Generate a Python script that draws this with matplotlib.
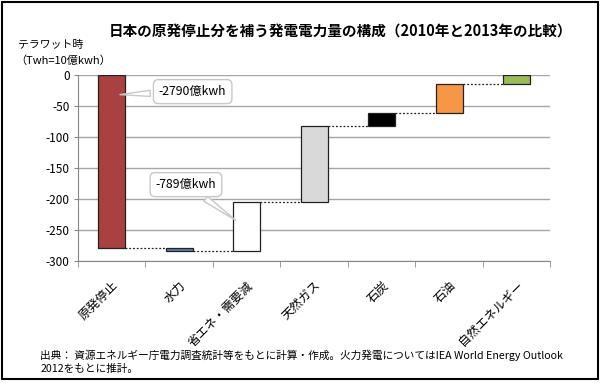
import matplotlib
matplotlib.use("Agg")
import matplotlib.pyplot as plt
from matplotlib.patches import Rectangle

plt.rcParams['font.family'] = ['Noto Sans CJK JP', 'DejaVu Sans']

# data (テラワット時)
categories = ['原発停止', '水力', '省エネ・需要減', '天然ガス', '石炭', '石油', '自然エネルギー']
changes = [-279, -5, 79, 122, 21, 48, 14]
colors = ['#A8413F', '#5B7FB0', '#FFFFFF', '#D9D9D9', '#000000', '#F79646', '#9BBB59']
yticks = [0, -50, -100, -150, -200, -250, -300]

fig = plt.figure(figsize=(6, 3.9), dpi=100)
ax = fig.add_axes([0.13, 0.331, 0.787, 0.477])

# waterfall: running start / end of each bar
starts = []
ends = []
level = 0
for c in changes:
    starts.append(level)
    level += c
    ends.append(level)

bw = 0.4
x = list(range(len(categories)))
for i in x:
    lo = min(starts[i], ends[i])
    h = abs(changes[i])
    ax.bar(i, h, bottom=lo, width=bw, color=colors[i], edgecolor='#222222',
           linewidth=0.9, zorder=3)

# dotted connectors
for i in range(len(categories) - 1):
    ax.plot([i + bw / 2, i + 1 - bw / 2], [ends[i], ends[i]], color='#222222',
            linestyle=(0, (1.5, 1.5)), linewidth=0.9, zorder=2)

ax.set_xlim(-0.5, len(categories) - 0.5)
ax.set_ylim(-300, 0)
ax.set_yticks(yticks)
ax.set_yticklabels([str(v) for v in yticks], fontsize=8.5)
ax.yaxis.grid(True, color='#A6A6A6', linewidth=1.0, zorder=0)
ax.set_axisbelow(True)
ax.tick_params(axis='y', length=3, color='#888888', pad=3)

ax.set_xticks(x)
ax.set_xticklabels(categories, rotation=45, ha='right', rotation_mode='anchor', fontsize=8.8)
ax.tick_params(axis='x', which='major', length=0, pad=13)
ax.set_xticks([i - 0.5 for i in range(len(categories) + 1)], minor=True)
ax.tick_params(axis='x', which='minor', length=4, color='#888888')

for s in ['top', 'right']:
    ax.spines[s].set_visible(False)
for s in ['left', 'bottom']:
    ax.spines[s].set_color('#888888')

# callouts
box = dict(boxstyle='round,pad=0.45,rounding_size=0.4', fc='white', ec='#C8C8C8', lw=1)
ax.annotate('-2790億kwh', xy=(0.08, -32), xytext=(1.2, -27), fontsize=8.8,
            ha='center', va='center', bbox=box, zorder=5,
            arrowprops=dict(arrowstyle='wedge,tail_width=0.5', fc='white', ec='#C8C8C8'))
ax.annotate('-789億kwh', xy=(1.87, -237), xytext=(1.1, -177), fontsize=8.8,
            ha='center', va='center', bbox=box, zorder=5,
            arrowprops=dict(arrowstyle='wedge,tail_width=0.5', fc='white', ec='#C8C8C8'))

fig.text(0.568, 0.922, '日本の原発停止分を補う発電電力量の構成（2010年と2013年の比較）',
         ha='center', va='center', fontsize=10.5, fontweight='bold')
fig.text(0.03, 0.885, 'テラワット時', fontsize=7.8, va='center')
fig.text(0.025, 0.845, '（Twh=10億kwh）', fontsize=8, va='center')
fig.text(0.067, 0.072, '出典： 資源エネルギー庁電力調査統計等をもとに計算・作成。火力発電についてはIEA World Energy Outlook\n2012をもとに推計。',
         fontsize=7.7, va='center', linespacing=1.3)

fig.patches.append(Rectangle((0.003, 1 - 379 / 390), 0.994, 377 / 390, transform=fig.transFigure,
                             fill=False, ec='black', lw=1.5))

fig.savefig('out.png', dpi=100)
